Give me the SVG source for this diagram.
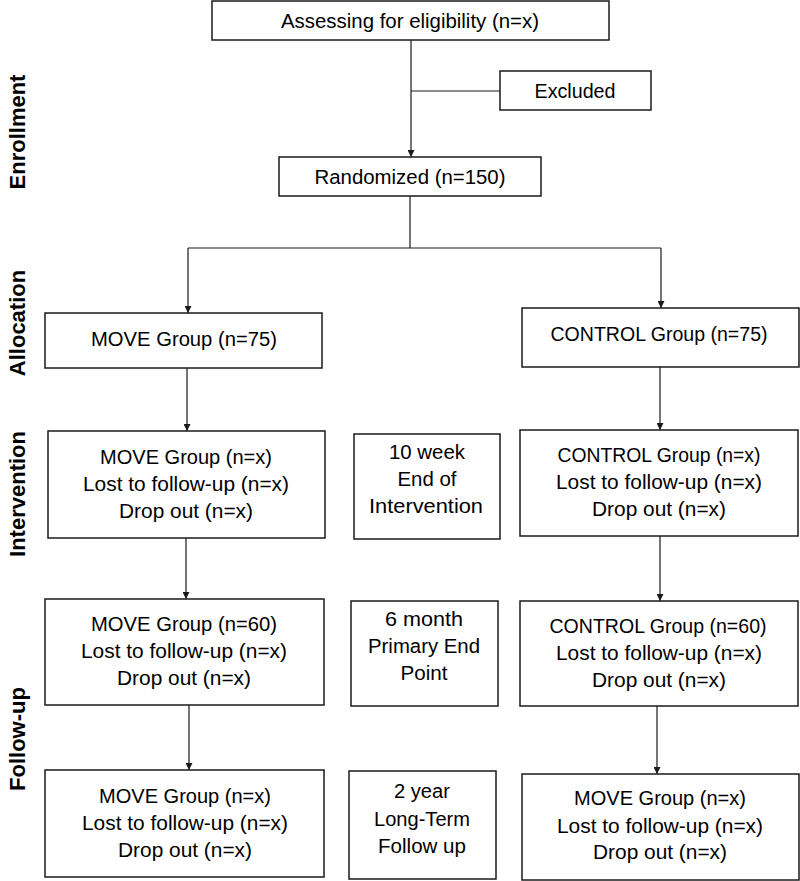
<svg xmlns="http://www.w3.org/2000/svg" width="800" height="881" viewBox="0 0 800 881">
<style>
.box{fill:#fff;stroke:#1a1a1a;stroke-width:1.5}
.t{font-family:"Liberation Sans",Arial,sans-serif;font-size:20px;fill:#000;text-anchor:middle}
.side{font-family:"Liberation Sans",Arial,sans-serif;font-size:22px;font-weight:bold;fill:#000;text-anchor:middle}
.ln{fill:none;stroke:#1a1a1a;stroke-width:1.2}
</style>
<defs>
<marker id="ah" viewBox="0 0 10 10" refX="10" refY="5" markerWidth="7" markerHeight="7" markerUnits="userSpaceOnUse" orient="auto">
<path d="M0,0 L10,5 L0,10 Z" fill="#1a1a1a"/>
</marker>
</defs>
<rect width="800" height="881" fill="#fff"/>

<g id="side-labels">
<text class="side" transform="translate(25,132) rotate(-90)">Enrollment</text>
<text class="side" transform="translate(25,323) rotate(-90)">Allocation</text>
<text class="side" transform="translate(25,494) rotate(-90)">Intervention</text>
<text class="side" transform="translate(25,739) rotate(-90)">Follow-up</text>
</g>

<g id="connectors">
<line class="ln" x1="411" y1="40" x2="411" y2="157" marker-end="url(#ah)"/>
<line class="ln" x1="411" y1="91" x2="500" y2="91"/>
<polyline class="ln" points="410,196 410,248"/>
<line class="ln" x1="188" y1="248" x2="661" y2="248"/>
<line class="ln" x1="188" y1="248" x2="188" y2="313" marker-end="url(#ah)"/>
<line class="ln" x1="661" y1="248" x2="661" y2="308" marker-end="url(#ah)"/>
<line class="ln" x1="187" y1="368" x2="187" y2="431" marker-end="url(#ah)"/>
<line class="ln" x1="660" y1="367" x2="660" y2="430" marker-end="url(#ah)"/>
<line class="ln" x1="186" y1="538" x2="186" y2="599" marker-end="url(#ah)"/>
<line class="ln" x1="660" y1="536" x2="660" y2="601" marker-end="url(#ah)"/>
<line class="ln" x1="189" y1="705" x2="189" y2="770" marker-end="url(#ah)"/>
<line class="ln" x1="657" y1="706" x2="657" y2="774" marker-end="url(#ah)"/>
</g>

<g id="n-assess">
<rect class="box" x="212" y="1" width="397" height="39"/>
<text class="t" x="410" y="28" textLength="258" lengthAdjust="spacingAndGlyphs">Assessing for eligibility (n=x)</text>
</g>
<g id="n-excluded">
<rect class="box" x="500" y="71" width="151" height="39"/>
<text class="t" x="575" y="98" textLength="81" lengthAdjust="spacingAndGlyphs">Excluded</text>
</g>
<g id="n-random">
<rect class="box" x="279" y="157" width="262" height="39"/>
<text class="t" x="410" y="184" textLength="191" lengthAdjust="spacingAndGlyphs">Randomized (n=150)</text>
</g>

<g id="n-move-alloc">
<rect class="box" x="45" y="313" width="277" height="55"/>
<text class="t" x="184" y="346" textLength="186" lengthAdjust="spacingAndGlyphs">MOVE Group (n=75)</text>
</g>
<g id="n-control-alloc">
<rect class="box" x="522" y="308" width="277" height="59"/>
<text class="t" x="659" y="341" textLength="217" lengthAdjust="spacingAndGlyphs">CONTROL Group (n=75)</text>
</g>

<g id="n-move-int">
<rect class="box" x="48" y="431" width="277" height="107"/>
<text class="t" x="186" y="464" textLength="172" lengthAdjust="spacingAndGlyphs">MOVE Group (n=x)</text>
<text class="t" x="186" y="491" textLength="206" lengthAdjust="spacingAndGlyphs">Lost to follow-up (n=x)</text>
<text class="t" x="186" y="518" textLength="134" lengthAdjust="spacingAndGlyphs">Drop out (n=x)</text>
</g>
<g id="n-10week">
<rect class="box" x="354" y="434" width="146" height="105"/>
<text class="t" x="427" y="459" textLength="76" lengthAdjust="spacingAndGlyphs">10 week</text>
<text class="t" x="427" y="486" textLength="59" lengthAdjust="spacingAndGlyphs">End of</text>
<text class="t" x="426" y="513" textLength="114" lengthAdjust="spacingAndGlyphs">Intervention</text>
</g>
<g id="n-control-int">
<rect class="box" x="520" y="430" width="278" height="106"/>
<text class="t" x="659" y="462" textLength="203" lengthAdjust="spacingAndGlyphs">CONTROL Group (n=x)</text>
<text class="t" x="659" y="489" textLength="206" lengthAdjust="spacingAndGlyphs">Lost to follow-up (n=x)</text>
<text class="t" x="659" y="516" textLength="134" lengthAdjust="spacingAndGlyphs">Drop out (n=x)</text>
</g>

<g id="n-move-6m">
<rect class="box" x="45" y="599" width="279" height="106"/>
<text class="t" x="184" y="631" textLength="186" lengthAdjust="spacingAndGlyphs">MOVE Group (n=60)</text>
<text class="t" x="184" y="658" textLength="206" lengthAdjust="spacingAndGlyphs">Lost to follow-up (n=x)</text>
<text class="t" x="184" y="685" textLength="134" lengthAdjust="spacingAndGlyphs">Drop out (n=x)</text>
</g>
<g id="n-6month">
<rect class="box" x="351" y="601" width="147" height="105"/>
<text class="t" x="424" y="626" textLength="78" lengthAdjust="spacingAndGlyphs">6 month</text>
<text class="t" x="424" y="653" textLength="112" lengthAdjust="spacingAndGlyphs">Primary End</text>
<text class="t" x="424" y="680" textLength="47" lengthAdjust="spacingAndGlyphs">Point</text>
</g>
<g id="n-control-6m">
<rect class="box" x="520" y="601" width="278" height="105"/>
<text class="t" x="658" y="633" textLength="217" lengthAdjust="spacingAndGlyphs">CONTROL Group (n=60)</text>
<text class="t" x="659" y="660" textLength="206" lengthAdjust="spacingAndGlyphs">Lost to follow-up (n=x)</text>
<text class="t" x="659" y="687" textLength="134" lengthAdjust="spacingAndGlyphs">Drop out (n=x)</text>
</g>

<g id="n-move-2y">
<rect class="box" x="45" y="770" width="279" height="107"/>
<text class="t" x="185" y="803" textLength="172" lengthAdjust="spacingAndGlyphs">MOVE Group (n=x)</text>
<text class="t" x="185" y="830" textLength="206" lengthAdjust="spacingAndGlyphs">Lost to follow-up (n=x)</text>
<text class="t" x="185" y="857" textLength="134" lengthAdjust="spacingAndGlyphs">Drop out (n=x)</text>
</g>
<g id="n-2year">
<rect class="box" x="349" y="771" width="147" height="108"/>
<text class="t" x="422" y="798" textLength="56" lengthAdjust="spacingAndGlyphs">2 year</text>
<text class="t" x="422" y="826" textLength="96" lengthAdjust="spacingAndGlyphs">Long-Term</text>
<text class="t" x="422" y="853" textLength="88" lengthAdjust="spacingAndGlyphs">Follow up</text>
</g>
<g id="n-control-2y">
<rect class="box" x="522" y="774" width="277" height="106"/>
<text class="t" x="660" y="805" textLength="172" lengthAdjust="spacingAndGlyphs">MOVE Group (n=x)</text>
<text class="t" x="660" y="833" textLength="206" lengthAdjust="spacingAndGlyphs">Lost to follow-up (n=x)</text>
<text class="t" x="660" y="859" textLength="134" lengthAdjust="spacingAndGlyphs">Drop out (n=x)</text>
</g>
</svg>
